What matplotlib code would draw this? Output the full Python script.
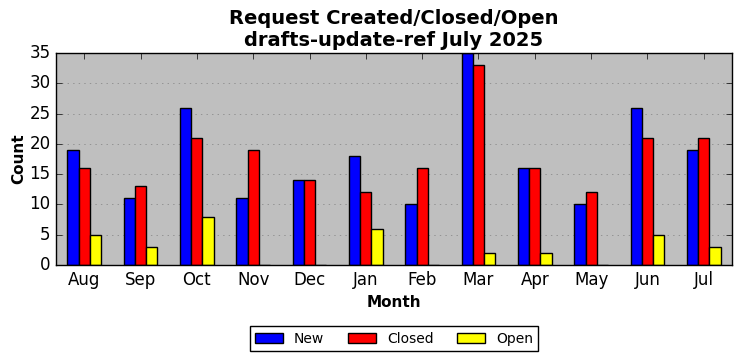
import numpy as np
import matplotlib.pyplot as plt

plt.style.use('classic')

months = ['Aug', 'Sep', 'Oct', 'Nov', 'Dec', 'Jan', 'Feb', 'Mar', 'Apr', 'May', 'Jun', 'Jul']
new = [19, 11, 26, 11, 14, 18, 10, 35, 16, 10, 26, 19]
closed = [16, 13, 21, 19, 14, 12, 16, 33, 16, 12, 21, 21]
open_ = [5, 3, 8, 0, 0, 6, 0, 2, 2, 0, 5, 3]

x = np.arange(len(months))
w = 0.2

fig = plt.figure(figsize=(7.42, 3.61), dpi=100)
ax = fig.add_axes([0.0755, 0.266, 0.911, 0.587])
ax.set_facecolor('#bfbfbf')

ax.bar(x - w, new, w, color='blue', edgecolor='black', label='New', align='center')
ax.bar(x, closed, w, color='red', edgecolor='black', label='Closed', align='center')
ax.bar(x + w, open_, w, color='yellow', edgecolor='black', label='Open', align='center')

ax.set_xticks(x)
ax.set_xticklabels(months)
ax.set_xlim(-0.5, len(months) - 0.5)
ax.set_ylim(0, 35)
ax.yaxis.grid(True, linestyle=':', color='gray')
ax.set_axisbelow(True)

ax.set_title('Request Created/Closed/Open\ndrafts-update-ref July 2025', fontsize=14, fontweight='bold')
ax.set_xlabel('Month', fontsize=11, fontweight='bold')
ax.set_ylabel('Count', fontsize=11, fontweight='bold', labelpad=2)

ax.legend(loc='upper center', bbox_to_anchor=(0.5, -0.255), ncol=3, fontsize=10,
          columnspacing=1.7)

fig.savefig('out.png', dpi=100)
